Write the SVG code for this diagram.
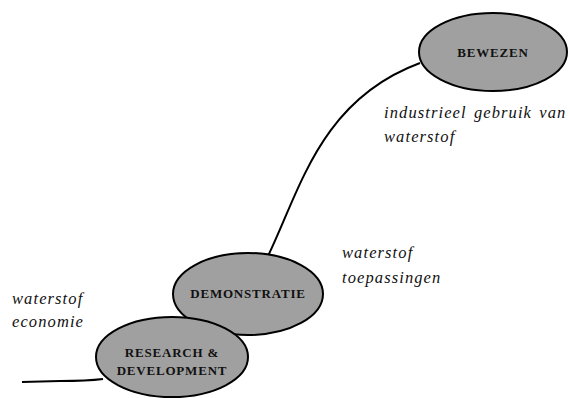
<svg xmlns="http://www.w3.org/2000/svg" width="570" height="398" viewBox="0 0 570 398">
<style>
.node ellipse{fill:#a0a0a0;stroke:#000;stroke-width:2}
.node text{font-family:"Liberation Serif","Times New Roman",serif;font-weight:bold;font-size:13px;letter-spacing:0.8px;fill:#111;text-anchor:middle}
.conn path{fill:none;stroke:#000;stroke-width:2}
.lbl{font-family:"Liberation Serif","Times New Roman",serif;font-style:italic;font-size:16.5px;letter-spacing:1.1px;word-spacing:2px;fill:#111}
</style>
<rect width="570" height="398" fill="#fff"/>
<g id="connectors" class="conn">
<path d="M268,256 C300,190 320,100 420,63"/>
<path d="M22,382 L60,381 C80,381 95,380 103,379"/>
</g>
<g id="bewezen" class="node">
<ellipse cx="493" cy="52" rx="74" ry="39"/>
<text x="493" y="57">BEWEZEN</text>
</g>
<g id="demonstratie" class="node">
<ellipse cx="248" cy="294" rx="75" ry="41"/>
<text x="248" y="298">DEMONSTRATIE</text>
</g>
<g id="research" class="node">
<ellipse cx="172" cy="357" rx="76" ry="40"/>
<text x="172" y="357">RESEARCH &amp;</text>
<text x="172" y="375">DEVELOPMENT</text>
</g>
<g id="labels">
<text class="lbl" x="384" y="118">industrieel gebruik van</text>
<text class="lbl" x="384" y="142">waterstof</text>
<text class="lbl" x="342" y="258">waterstof</text>
<text class="lbl" x="342" y="283">toepassingen</text>
<text class="lbl" x="12" y="304">waterstof</text>
<text class="lbl" x="12" y="327">economie</text>
</g>
</svg>
